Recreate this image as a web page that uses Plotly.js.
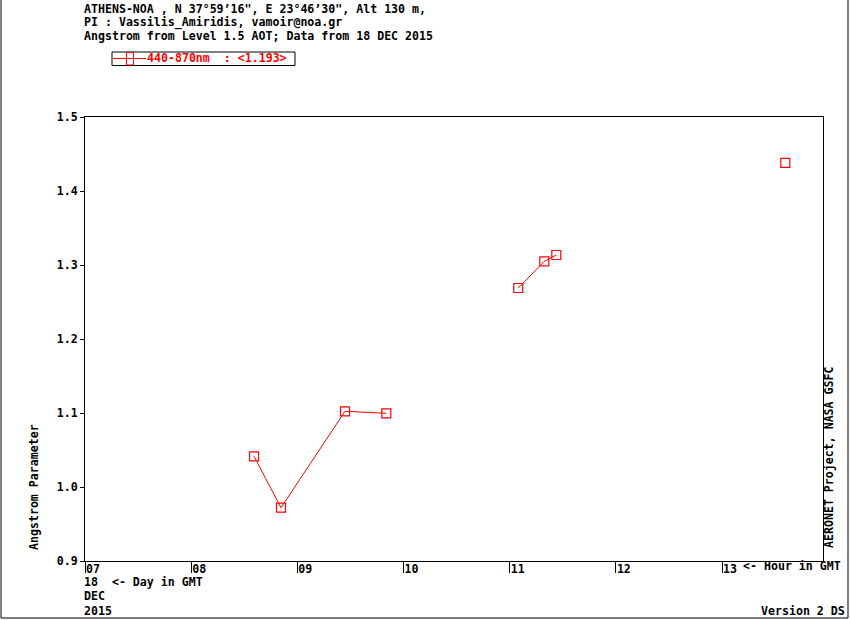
<!DOCTYPE html>
<html>
<head>
<meta charset="utf-8">
<script src="https://cdn.plot.ly/plotly-3.0.1.min.js"></script>
<style>
  body { margin: 0; background: #fff; }
  #plot { width: 850px; height: 620px; }
</style>
</head>
<body>
<div id="plot"></div>
<script>
// measurement times (hour in GMT, 18 DEC 2015) and Angstrom 440-870nm values
// null breaks the line where there is a gap in measurements
const hours    = [8.592, 8.846, 9.449, 9.838, null, 11.081, 11.326, 11.439, null, 13.596];
const angstrom = [1.0415, 0.972, 1.1023, 1.0996, null, 1.2689, 1.305, 1.3135, null, 1.438];

const hourTicks  = [7, 8, 9, 10, 11, 12, 13];
const hourLabels = ['07', '08', '09', '10', '11', '12', '13'];
const angTicks   = [0.9, 1.0, 1.1, 1.2, 1.3, 1.4, 1.5];
const angLabels  = ['0.9', '1.0', '1.1', '1.2', '1.3', '1.4', '1.5'];

const valid = angstrom.filter(v => v !== null);
const avg = valid.reduce((a, b) => a + b, 0) / valid.length;

const mono = 'DejaVu Sans Mono, Liberation Mono, monospace';
const red = '#ff0000';
const fs = 11.6;

// plot box in pixels: left 85, right 823, top 117, bottom 561
const W = 738, H = 444;
const px = p => (p - 85) / W;
const py = p => (561 - p) / H;

const traces = [{
    x: hours,
    y: angstrom,
    mode: 'lines+markers',
    connectgaps: false,
    showlegend: false,
    line: { color: red, width: 1 },
    marker: { symbol: 'square-open', size: 9, color: red, line: { width: 1.2 } }
}];

function label(text, x, y, opts) {
    return Object.assign({
        text: '<b>' + text + '</b>',
        x: px(x), y: py(y), xref: 'paper', yref: 'paper',
        xanchor: 'left', yanchor: 'middle', showarrow: false,
        font: { family: mono, size: fs, color: '#000' }
    }, opts || {});
}

const annotations = [
    label('ATHENS-NOA , N 37°59’16", E 23°46’30", Alt 130 m,', 82, 9),
    label('PI : Vassilis_Amiridis, vamoir@noa.gr', 82, 22),
    label('Angstrom from Level 1.5 AOT; Data from 18 DEC 2015', 82, 36),
    // legend text
    label('440-870nm&nbsp;&nbsp;: &lt;' + avg.toFixed(3) + '&gt;', 145, 58.5,
          { font: { family: mono, size: fs, color: red } }),
    label('18&nbsp;&nbsp;&lt;- Day in GMT', 82, 582),
    label('DEC', 82, 596),
    label('2015', 82, 611),
    label('&lt;- Hour in GMT', 741, 566),
    label('Version 2 DS', 847, 611, { xanchor: 'right' }),
    label('Angstrom Parameter', 34, 487, { xanchor: 'center', textangle: -90 }),
    label('AERONET Project, NASA GSFC', 829, 457, { xanchor: 'center', textangle: -90 })
];

const paperRect = (x0, x1, y0, y1, color) => ({
    type: 'rect', xref: 'paper', yref: 'paper',
    x0: px(x0), x1: px(x1), y0: py(y1), y1: py(y0),
    line: { color: color, width: 1 }
});

const shapes = [
    // outer frame
    paperRect(1, 848, -5, 618, '#000'),
    // legend box
    paperRect(112, 295, 52, 65.5, '#000'),
    // legend line and symbol
    { type: 'line', xref: 'paper', yref: 'paper',
      x0: px(113), x1: px(146), y0: py(58.5), y1: py(58.5),
      line: { color: red, width: 1 } },
    paperRect(126.5, 133.5, 52.5, 65, red)
];

const layout = {
    width: 850, height: 620,
    margin: { l: 85, r: 27, t: 117, b: 59 },
    paper_bgcolor: '#fff', plot_bgcolor: '#fff',
    font: { family: mono, size: fs, color: '#000' },
    showlegend: false,
    xaxis: {
        range: [7, 13.951], tickvals: hourTicks, ticktext: hourLabels,
        showgrid: false, zeroline: false, showline: true, mirror: true,
        linecolor: '#000', linewidth: 1,
        ticks: 'outside', ticklen: 11, tickcolor: '#000',
        ticklabelshift: 8, ticklabelstandoff: -14,
        tickfont: { family: mono, size: fs, weight: 'bold' }
    },
    yaxis: {
        range: [0.9, 1.5], tickvals: angTicks, ticktext: angLabels,
        showgrid: false, zeroline: false, showline: true, mirror: true,
        linecolor: '#000', linewidth: 1,
        ticks: 'outside', ticklen: 4, tickcolor: '#000',
        tickfont: { family: mono, size: fs, weight: 'bold' }
    },
    annotations: annotations,
    shapes: shapes
};

Plotly.newPlot('plot', traces, layout, { displayModeBar: false, staticPlot: true });
</script>
</body>
</html>
